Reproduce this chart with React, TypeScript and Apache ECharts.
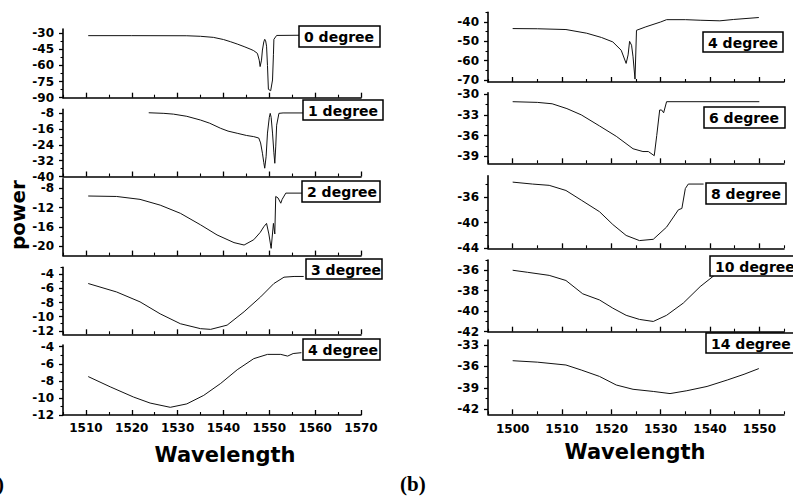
import React, { useEffect, useRef } from 'react';
import * as echarts from 'echarts';

// ---------- tick labels ----------
const leftXMajor = [1510, 1520, 1530, 1540, 1550, 1560, 1570];
const leftXMinor = [1505, 1515, 1525, 1535, 1545, 1555, 1565];
const rightXMajor = [1500, 1510, 1520, 1530, 1540, 1550];
const rightXMinor = [1495, 1505, 1515, 1525, 1535, 1545, 1555];

// ---------- series (wavelength, power) ----------
const left0deg = [
  [1510.5, -32.2], [1520, -32.2], [1532, -32.3], [1535, -32.8], [1537.8, -33.8], [1540, -35.8],
  [1541.5, -37.8], [1543, -40], [1544.5, -42.4], [1546, -45], [1546.6, -46.2], [1547.4, -48.7],
  [1547.8, -55], [1548, -61], [1548.3, -55], [1548.5, -45.6], [1548.8, -38], [1549, -35.6],
  [1549.2, -37], [1549.4, -42], [1549.6, -60], [1549.8, -82.2], [1550.3, -83.5], [1550.7, -73.5],
  [1550.9, -50], [1551, -35.6], [1551.6, -32], [1557, -31.8],
];
const left1deg = [
  [1523.7, -7.7], [1527, -8], [1529.1, -8.4], [1532, -9.5], [1535, -11.4], [1537, -13],
  [1539.4, -15.6], [1541, -17], [1543, -18.1], [1545, -19.2], [1546.6, -19.8], [1547.7, -20.5],
  [1548.1, -23], [1548.5, -28.2], [1548.8, -33], [1549, -35.8], [1549.3, -30], [1549.6, -18],
  [1550, -10], [1550.2, -8], [1550.4, -10], [1550.7, -18], [1551, -28], [1551.2, -33.3],
  [1551.4, -25], [1551.6, -14], [1552.1, -8], [1553, -7.8], [1557.6, -7.8],
];
const left2deg = [
  [1510.5, -9.6], [1516.7, -9.7], [1521.8, -10.3], [1526.2, -11.5], [1530.6, -13.2], [1535, -15.6],
  [1538.6, -17.7], [1542.3, -19.3], [1544.5, -19.8], [1546.6, -18.7], [1548, -17.2], [1548.8, -16],
  [1549.4, -15.3], [1549.9, -17.5], [1550.4, -20.5], [1550.9, -15.3], [1551.2, -17.5], [1551.4, -9.7],
  [1551.9, -10], [1552.5, -11.1], [1552.8, -10.3], [1553.6, -9], [1557.2, -9],
];
const left3deg = [
  [1510.5, -5.3], [1516.7, -6.5], [1521.8, -7.9], [1526.2, -9.6], [1530.6, -11], [1535, -11.7],
  [1537.2, -11.8], [1540.8, -11.2], [1544.5, -9.3], [1548.1, -7.2], [1551, -5.3], [1553.2, -4.4],
  [1555.4, -4.3], [1557.5, -4.3],
];
const left4deg = [
  [1510.5, -7.5], [1515.3, -8.7], [1520.4, -9.9], [1524, -10.6], [1528.4, -11.1], [1532, -10.7],
  [1535.7, -9.7], [1539.4, -8.3], [1543, -6.7], [1546.6, -5.4], [1549.6, -4.9], [1552.5, -4.9],
  [1554, -5.1], [1555.2, -4.8], [1557, -4.7],
];
const right4deg = [
  [1500, -43.4], [1505, -43.5], [1510.8, -43.9], [1515, -45.8], [1518, -48], [1520.3, -50.3],
  [1522, -54.6], [1523, -61.4], [1523.4, -57], [1523.7, -50], [1524.1, -52], [1524.4, -58],
  [1524.8, -69.5], [1525.1, -44.3], [1527, -42.5], [1530, -40], [1531.2, -38.8], [1535, -38.8],
  [1538, -39.1], [1542, -39.4], [1544.8, -38.7], [1549.9, -37.7],
];
const right6deg = [
  [1500, -31.1], [1505, -31.2], [1508, -31.4], [1511, -32.1], [1513.9, -33], [1517.6, -34.6],
  [1521, -36.1], [1524.4, -37.9], [1526.4, -38.3], [1527.5, -38.3], [1528.7, -38.9], [1529.2, -36],
  [1529.8, -32.3], [1530.2, -32.3], [1530.6, -32.7], [1531.2, -31.1], [1550, -31.1],
];
const right8deg = [
  [1500, -33.7], [1504, -34], [1507.4, -34.2], [1510.8, -35], [1513.9, -36.5], [1517.6, -38.3],
  [1520.3, -40.3], [1523, -42], [1525.7, -42.8], [1528.5, -42.6], [1531.2, -40.7], [1533.6, -38],
  [1534.3, -37.8], [1535, -34.7], [1535.6, -34], [1538.7, -34],
];
const right10deg = [
  [1500, -36], [1503, -36.2], [1507.4, -36.5], [1510.8, -37], [1514.2, -38.3], [1517.6, -38.9],
  [1520.3, -39.7], [1523, -40.4], [1525.7, -40.8], [1528.5, -41], [1531.2, -40.4], [1534.6, -39.2],
  [1538, -37.6], [1541.4, -36.3], [1544.8, -36.2], [1547, -36.3], [1550, -36],
];
const right14deg = [
  [1500, -35.2], [1505, -35.4], [1510.8, -35.8], [1513.9, -36.5], [1517.6, -37.4], [1521, -38.6],
  [1524.4, -39.2], [1528.5, -39.5], [1531.9, -39.8], [1535.3, -39.4], [1539.4, -38.8], [1543.5, -37.9],
  [1546.9, -37.1], [1549.9, -36.3],
];

const seriesLabels = ['0 degree', '1 degree', '2 degree', '3 degree', '4 degree', '4 degree', '6 degree', '8 degree', '10 degree', '14 degree'];
const seriesData = [left0deg, left1deg, left2deg, left3deg, left4deg, right4deg, right6deg, right8deg, right10deg, right14deg];

const yRanges = [
  [-90, -26], [-40, -6], [-22, -6], [-12.5, -3], [-12, -3.8],
  [-71, -35], [-40, -29.8], [-44, -32.7], [-42, -35], [-42.7, -32.3],
];
const yMajor = [
  [-90, -75, -60, -45, -30], [-40, -32, -24, -16, -8], [-20, -16, -12, -8], [-12, -10, -8, -6, -4], [-12, -10, -8, -6, -4],
  [-70, -60, -50, -40], [-39, -36, -33, -30], [-44, -40, -36], [-42, -40, -38, -36], [-42, -39, -36, -33],
];
const yMinor = [
  [-82.5, -67.5, -52.5, -37.5], [-36, -28, -20, -12], [-18, -14, -10], [-11, -9, -7, -5, -3], [-11, -9, -7, -5],
  [-65, -55, -45, -35], [-37.5, -34.5, -31.5], [-42, -38, -34], [-41, -39, -37, -35], [-40.5, -37.5, -34.5],
];

// ---------- layout (pixels) ----------
const panelTop = [29, 109.4, 178.7, 267.3, 345, 12.3, 92.7, 175.7, 260, 340];
const panelBottom = [97.7, 176.5, 255.6, 334.3, 415, 82, 163.3, 248.3, 331.7, 414.3];
const boxes = [
  [299, 26, 81, 21], [303, 100, 80, 20], [302, 181, 78, 21], [306, 259, 76, 20], [303, 339, 77, 21],
  [703, 32, 80, 20], [704, 107, 81, 21], [706, 183, 80, 21], [710, 256, 90, 20], [706, 333, 90, 20],
];

const FONT = '"DejaVu Sans", "Liberation Sans", sans-serif';

export default function App() {
  const ref = useRef<HTMLDivElement>(null);
  useEffect(() => {
    if (!ref.current) return;
    const chart = echarts.init(ref.current, undefined, { renderer: 'svg' });
    const grids: any[] = [];
    const xAxes: any[] = [];
    const yAxes: any[] = [];
    const series: any[] = [];
    const graphics: any[] = [];
    for (let i = 0; i < 10; i++) {
      const isLeft = i < 5;
      const isBottom = i === 4 || i === 9;
      grids.push({
        left: isLeft ? 63 : 488,
        width: isLeft ? 298 : 296,
        top: panelTop[i],
        height: panelBottom[i] - panelTop[i],
      });
      const xmin = isLeft ? 1505 : 1495;
      const xmax = isLeft ? 1570 : 1555;
      const xMaj = isLeft ? leftXMajor : rightXMajor;
      const xMin = isLeft ? leftXMinor : rightXMinor;
      xAxes.push({
        gridIndex: i, type: 'value', min: xmin, max: xmax, position: 'bottom',
        axisLine: { show: true, onZero: false, lineStyle: { color: '#000', width: 1.6 } },
        axisTick: { show: true, inside: true, length: 5, customValues: xMaj, lineStyle: { color: '#000', width: 1.3 } },
        axisLabel: {
          show: isBottom, customValues: xMaj, margin: isLeft ? 7 : 9,
          color: '#000', fontFamily: FONT, fontWeight: 'bold', fontSize: 12,
          formatter: (v: number) => String(v),
        },
        splitLine: { show: false },
      });
      xAxes.push({
        gridIndex: i, type: 'value', min: xmin, max: xmax, position: 'bottom',
        axisLine: { show: false, onZero: false },
        axisTick: { show: true, inside: true, length: 3, customValues: xMin, lineStyle: { color: '#000', width: 1.1 } },
        axisLabel: { show: false },
        splitLine: { show: false },
      });
      yAxes.push({
        gridIndex: i, type: 'value', min: yRanges[i][0], max: yRanges[i][1], position: 'left',
        axisLine: { show: true, onZero: false, lineStyle: { color: '#000', width: 1.6 } },
        axisTick: { show: true, inside: false, length: 4, customValues: yMajor[i], lineStyle: { color: '#000', width: 1.3 } },
        axisLabel: {
          show: true, customValues: yMajor[i], margin: 9, lineHeight: 10,
          color: '#000', fontFamily: FONT, fontWeight: 'bold', fontSize: 12,
          formatter: (v: number) => String(v),
        },
        splitLine: { show: false },
      });
      yAxes.push({
        gridIndex: i, type: 'value', min: yRanges[i][0], max: yRanges[i][1], position: 'left',
        axisLine: { show: false, onZero: false },
        axisTick: { show: true, inside: false, length: 2.5, customValues: yMinor[i], lineStyle: { color: '#000', width: 1.1 } },
        axisLabel: { show: false },
        splitLine: { show: false },
      });
      series.push({
        type: 'line', xAxisIndex: 2 * i, yAxisIndex: 2 * i, data: seriesData[i],
        showSymbol: false, symbol: 'none', lineStyle: { color: '#111', width: 1 },
      });
      const [bx, by, bw, bh] = boxes[i];
      graphics.push({
        type: 'rect', z: 100, shape: { x: bx, y: by, width: bw, height: bh },
        style: { fill: '#fff', stroke: '#000', lineWidth: 1.5 },
      });
      graphics.push({
        type: 'text', z: 101, x: bx + 5, y: by + bh / 2 + 0.5,
        style: {
          text: seriesLabels[i], fill: '#000', font: `bold 14px ${FONT}`,
          align: 'left', verticalAlign: 'middle', textAlign: 'left', textVerticalAlign: 'middle',
        },
      });
    }
    graphics.push({
      type: 'text', x: 225, y: 455,
      style: { text: 'Wavelength', fill: '#000', font: `bold 21px ${FONT}`, align: 'center', verticalAlign: 'middle', textAlign: 'center', textVerticalAlign: 'middle' },
    });
    graphics.push({
      type: 'text', x: 635, y: 452,
      style: { text: 'Wavelength', fill: '#000', font: `bold 21px ${FONT}`, align: 'center', verticalAlign: 'middle', textAlign: 'center', textVerticalAlign: 'middle' },
    });
    graphics.push({
      type: 'text', x: 18, y: 215, rotation: Math.PI / 2,
      style: { text: 'power', fill: '#000', font: `bold 20px ${FONT}`, align: 'center', verticalAlign: 'middle', textAlign: 'center', textVerticalAlign: 'middle' },
    });
    graphics.push({
      type: 'text', x: 4, y: 484,
      style: { text: '(a)', fill: '#000', font: 'bold 21px "Liberation Serif", serif', align: 'right', verticalAlign: 'middle', textAlign: 'right', textVerticalAlign: 'middle' },
    });
    graphics.push({
      type: 'text', x: 400, y: 484,
      style: { text: '(b)', fill: '#000', font: 'bold 21px "Liberation Serif", serif', align: 'left', verticalAlign: 'middle', textAlign: 'left', textVerticalAlign: 'middle' },
    });

    chart.setOption({
      animation: false,
      backgroundColor: '#fff',
      grid: grids,
      xAxis: xAxes,
      yAxis: yAxes,
      series,
      graphic: { elements: graphics },
    });
    return () => chart.dispose();
  }, []);
  return (
    <div
      ref={ref}
      style={{ position: 'fixed', left: 0, top: 0, width: 793, height: 496, background: '#fff' }}
    />
  );
}
